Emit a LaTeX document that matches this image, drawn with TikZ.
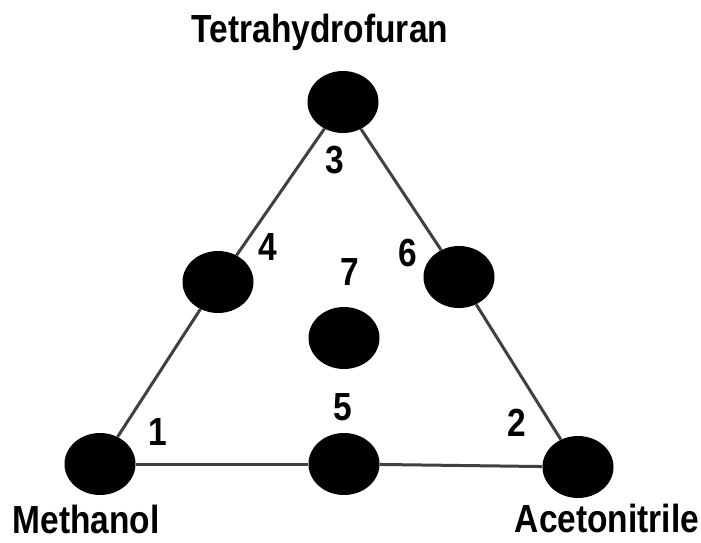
\documentclass[tikz,border=0pt]{standalone}
\usepackage{fontspec}
\setmainfont{Liberation Sans}
\usetikzlibrary{shapes.geometric}
\begin{document}
\begin{tikzpicture}[x=1pt,y=-1pt,
  dot/.style={fill=black, ellipse, inner sep=0pt, minimum width=71pt, minimum height=62pt},
  edge/.style={draw=black!75, line width=3pt},
  lbl/.style={font=\fontsize{33.5}{34}\selectfont\bfseries, yscale=1.17, inner sep=0pt, text=black},
  num/.style={lbl}]
\useasboundingbox[fill=white] (0,0) rectangle (701,543);
% mixture points
\node[dot] (T) at (343,102) {};
\node[dot] (L) at (218,282) {};
\node[dot] (R) at (459,277) {};
\node[dot] (C) at (344,338) {};
\node[dot] (BL) at (100,464) {};
\node[dot] (BM) at (344,464) {};
\node[dot] (BR) at (578,467) {};
% triangle sides
\draw[edge] (T) -- (L);
\draw[edge] (L) -- (BL);
\draw[edge] (BL) -- (BM);
\draw[edge] (BM) -- (BR);
\draw[edge] (BR) -- (R);
\draw[edge] (R) -- (T);
% solvent names
\node[lbl, anchor=base] (thf) at (320,43) {Tetrahydrofuran};
\node[lbl, anchor=base] (meoh) at (86,533) {Methanol};
\node[lbl, anchor=base] (acn) at (607,532) {Acetonitrile};
% point numbers
\node[num] (n3) at (335,160) {3};
\node[num] (n4) at (268,247) {4};
\node[num] (n6) at (408,253) {6};
\node[num] (n7) at (350,272) {7};
\node[num] (n5) at (343,407) {5};
\node[num] (n1) at (158,432) {1};
\node[num] (n2) at (517,423) {2};
\end{tikzpicture}
\end{document}
